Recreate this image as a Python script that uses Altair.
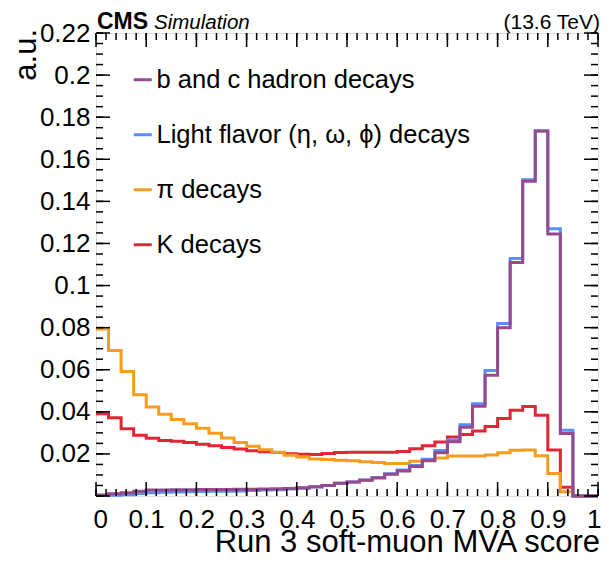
import altair as alt
import pandas as pd

# ---------------- data ----------------
bin_edges = [round(i * 0.025, 3) for i in range(41)]

labels = ["b and c hadron decays", "Light flavor (η, ω, ϕ) decays", "π decays", "K decays"]
colors = ["#964a8b", "#5790fc", "#f89c20", "#e42536"]

bc_vals = [0.0005, 0.0011, 0.0016, 0.0022, 0.0028, 0.0029, 0.0030, 0.0030, 0.0031, 0.0031,
           0.0031, 0.0032, 0.0032, 0.0033, 0.0034, 0.0036, 0.0039, 0.0044, 0.0050, 0.0060,
           0.0066, 0.0075, 0.0086, 0.0103, 0.0119, 0.0140, 0.0168, 0.0206, 0.0258, 0.0327,
           0.0427, 0.0574, 0.0800, 0.1110, 0.1495, 0.1734, 0.1245, 0.0297, 0.0, 0.0]
light_vals = [0.0002, 0.0003, 0.0006, 0.0012, 0.0016, 0.0018, 0.0019, 0.0020, 0.0021, 0.0022,
              0.0023, 0.0024, 0.0026, 0.0028, 0.0030, 0.0033, 0.0037, 0.0043, 0.0050, 0.0060,
              0.0067, 0.0076, 0.0088, 0.0106, 0.0123, 0.0145, 0.0175, 0.0216, 0.0266, 0.0338,
              0.0438, 0.0596, 0.0820, 0.1129, 0.1503, 0.1734, 0.1270, 0.0312, 0.0, 0.0]
pi_vals = [0.0793, 0.0691, 0.0591, 0.0481, 0.0423, 0.0388, 0.0364, 0.0343, 0.0322, 0.0298,
           0.0276, 0.0254, 0.0236, 0.0220, 0.0208, 0.0194, 0.0185, 0.0176, 0.0174, 0.0170,
           0.0167, 0.0163, 0.0159, 0.0155, 0.0155, 0.0165, 0.0173, 0.0181, 0.0190, 0.0190,
           0.0190, 0.0195, 0.0206, 0.0217, 0.0219, 0.0191, 0.0107, 0.0020, 0.0, 0.0]
k_vals = [0.0391, 0.0372, 0.0320, 0.0289, 0.0275, 0.0264, 0.0260, 0.0254, 0.0246, 0.0239,
          0.0231, 0.0223, 0.0215, 0.0210, 0.0207, 0.0201, 0.0198, 0.0197, 0.0202, 0.0207,
          0.0208, 0.0208, 0.0208, 0.0208, 0.0212, 0.0224, 0.0239, 0.0257, 0.0280, 0.0292,
          0.0309, 0.0330, 0.0368, 0.0407, 0.0425, 0.0384, 0.0218, 0.0041, 0.0, 0.0]

x_major = [round(i * 0.1, 1) for i in range(11)]
x_minor = [round(i * 0.02, 2) for i in range(51)]
y_major = [round(i * 0.02, 2) for i in range(12)]
y_minor = [round(i * 0.005, 3) for i in range(45)]
y_labels = [round(i * 0.02, 2) for i in range(1, 12)]

W, H = 502, 463
FONT = "Liberation Sans"


def step_df(name, vals):
    xs = list(bin_edges[:-1]) + [bin_edges[-1]]
    ys = list(vals) + [vals[-1]]
    return pd.DataFrame({"x": xs, "y": ys, "series": name})


series = dict(zip(labels, [bc_vals, light_vals, pi_vals, k_vals]))

xscale = alt.Scale(domain=[0, 1], nice=False, zero=False)
yscale = alt.Scale(domain=[0, 0.22], nice=False, zero=False)
xaxis = alt.Axis(values=x_major, format=".1~f", ticks=False, domain=False, grid=False,
                 labelFontSize=26, labelFont=FONT, labelColor="black", labelPadding=10,
                 title=None, labelFlush=True, labelFlushOffset=3)
yaxis = alt.Axis(values=y_labels, format=".2~f", ticks=False, domain=False, grid=False,
                 labelFontSize=26, labelFont=FONT, labelColor="black", labelPadding=6,
                 title=None, labelFlush=False)
cscale = alt.Scale(domain=labels, range=colors)
legend = alt.Legend(orient="none", legendX=34, legendY=34, title=None, symbolType="stroke",
                    symbolSize=324, symbolStrokeWidth=3, labelFontSize=25.5, labelFont=FONT,
                    labelColor="black", rowPadding=28, labelOffset=1, padding=0,
                    labelLimit=500)

layers = []
# draw order: K, pi, light, b/c (purple on top)
for name in [labels[3], labels[2], labels[1], labels[0]]:
    layers.append(
        alt.Chart(step_df(name, series[name])).mark_line(
            interpolate="step-after", strokeWidth=3, clip=False
        ).encode(
            x=alt.X("x:Q", scale=xscale, axis=xaxis),
            y=alt.Y("y:Q", scale=yscale, axis=yaxis),
            color=alt.Color("series:N", scale=cscale, legend=legend),
        )
    )


# inward ticks on all four sides
def xticks(vals, length, top):
    df = pd.DataFrame({"x": vals})
    y0 = 0 if top else H
    y1 = length if top else H - length
    return alt.Chart(df).mark_rule(color="black", strokeWidth=1.5).encode(
        x=alt.X("x:Q", scale=xscale, axis=xaxis), y=alt.value(y0), y2=alt.value(y1))


def yticks(vals, length, right):
    df = pd.DataFrame({"y": vals})
    x0 = W if right else 0
    x1 = W - length if right else length
    return alt.Chart(df).mark_rule(color="black", strokeWidth=1.5).encode(
        y=alt.Y("y:Q", scale=yscale, axis=yaxis), x=alt.value(x0), x2=alt.value(x1))


ticks = [
    xticks(x_minor, 7, False), xticks(x_major, 14, False),
    xticks(x_minor, 7, True), xticks(x_major, 14, True),
    yticks(y_minor, 7, False), yticks(y_major, 14, False),
    yticks(y_minor, 7, True), yticks(y_major, 14, True),
]


def txt(s, x, y, size, **kw):
    return alt.Chart(pd.DataFrame({"t": [s]})).mark_text(
        fontSize=size, font=FONT, color="black", **kw
    ).encode(text="t:N", x=alt.value(x), y=alt.value(y))


texts = [
    txt("CMS", 1, -4, 23, fontWeight="bold", align="left", baseline="alphabetic"),
    txt("Simulation", 58, -4, 20.5, fontStyle="italic", align="left", baseline="alphabetic"),
    txt("(13.6 TeV)", 504, -4, 21, align="right", baseline="alphabetic"),
    txt("Run 3 soft-muon MVA score", 504, 519, 31, align="right", baseline="alphabetic"),
    txt("a.u.", -60, -4, 31, align="right", baseline="alphabetic", angle=270),
]

chart = alt.layer(*layers, *ticks, *texts).properties(
    width=W, height=H,
    autosize=alt.AutoSizeParams(type="none"),
    padding={"left": 88, "top": 25, "right": 3, "bottom": 63},
).configure_view(stroke="black", strokeWidth=2).configure(background="white")

chart.save("out.html", embed_options={"renderer": "svg", "actions": False})
